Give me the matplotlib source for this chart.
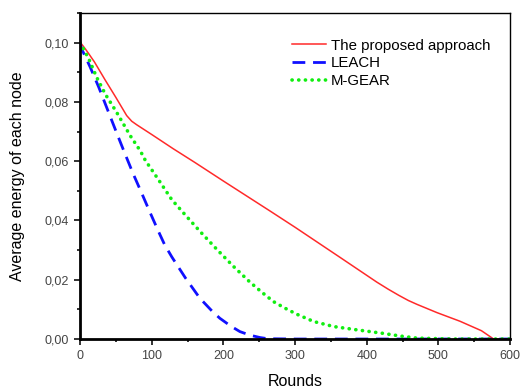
import numpy as np
import matplotlib.pyplot as plt
from matplotlib.ticker import MultipleLocator, FuncFormatter

plt.rcParams['font.family'] = ['Liberation Sans', 'DejaVu Sans']

# proposed approach
rounds_prop = [0, 7, 12, 20, 35, 50, 65, 72, 79, 100, 130, 160, 200, 265, 300, 363, 414,
               430, 445, 458, 470, 485, 498, 530, 560, 577, 600]
energy_prop = [0.1002, 0.098, 0.0963, 0.0935, 0.0874, 0.0815, 0.0754, 0.0735, 0.0723, 0.0690,
               0.0642, 0.0596, 0.0533, 0.0432, 0.0377, 0.0275, 0.0192, 0.0168, 0.0147,
               0.0130, 0.0117, 0.0102, 0.0089, 0.0060, 0.0028, 0.0, 0.0]

# LEACH
rounds_leach = [0, 2, 14, 26, 37, 49, 61, 74, 86, 98, 109, 118, 128, 147, 167, 185, 195, 210,
                223, 237, 251, 262, 300, 600]
energy_leach = [0.100, 0.098, 0.0918, 0.085, 0.0782, 0.0708, 0.0635, 0.0558, 0.0492, 0.0425,
                0.0365, 0.0318, 0.0277, 0.0206, 0.0138, 0.0092, 0.0070, 0.0044, 0.0025,
                0.0013, 0.0005, 0.0001, 0.0, 0.0]

# M-GEAR
rounds_mgear = [0, 12, 23, 35, 51, 70, 84, 91, 109, 128, 147, 167, 191, 214, 237, 254, 270,
                286, 302, 326, 354, 386, 423, 447, 470, 520, 600]
energy_mgear = [0.100, 0.0946, 0.0884, 0.0827, 0.0765, 0.0686, 0.0635, 0.0603, 0.0539, 0.0470,
                0.0418, 0.0364, 0.0302, 0.0245, 0.0192, 0.0157, 0.0126, 0.0104, 0.0084,
                0.0059, 0.0042, 0.0031, 0.0019, 0.0010, 0.0003, 0.0, 0.0]

fig = plt.figure(figsize=(5.2, 3.89), dpi=100)
ax = fig.add_axes([0.154, 0.1285, 0.827, 0.838])

ax.plot(rounds_prop, energy_prop, color='#ff2a2a', lw=1.1, label='The proposed approach')
ax.plot(rounds_leach, energy_leach, color='#1010ff', lw=2.0, ls=(0, (4.6, 2.8)), label='LEACH')
ax.plot(rounds_mgear, energy_mgear, color='#11ee11', lw=2.6, ls=(0, (0.05, 1.8)),
        dash_capstyle='round', label='M-GEAR')

ax.set_xlim(0, 600)
ax.set_ylim(0, 0.11)
ax.xaxis.set_major_locator(MultipleLocator(100))
ax.xaxis.set_minor_locator(MultipleLocator(50))
ax.yaxis.set_major_locator(MultipleLocator(0.02))
ax.yaxis.set_minor_locator(MultipleLocator(0.01))
ax.yaxis.set_major_formatter(FuncFormatter(lambda v, p: ('%.2f' % v).replace('.', ',')))

ax.tick_params(which='both', direction='out', top=False, right=False, colors='#222222',
               labelcolor='#444444', labelsize=9, width=1.3)
ax.tick_params(which='major', length=4.2, pad=4)
ax.tick_params(which='minor', length=2.5)
ax.spines['left'].set_linewidth(2.0)
ax.spines['bottom'].set_linewidth(2.0)
ax.spines['top'].set_linewidth(1.0)
ax.spines['right'].set_linewidth(1.0)

ax.set_xlabel('Rounds', fontsize=11.5, labelpad=8)
ax.set_ylabel('Average energy of each node', fontsize=11.5, labelpad=14)

leg = ax.legend(loc='upper left', bbox_to_anchor=(0.478, 0.94), frameon=False, fontsize=10.8,
                handlelength=2.3, handletextpad=0.3, labelspacing=0.26, borderaxespad=0)

fig.savefig('out.png', dpi=100)
